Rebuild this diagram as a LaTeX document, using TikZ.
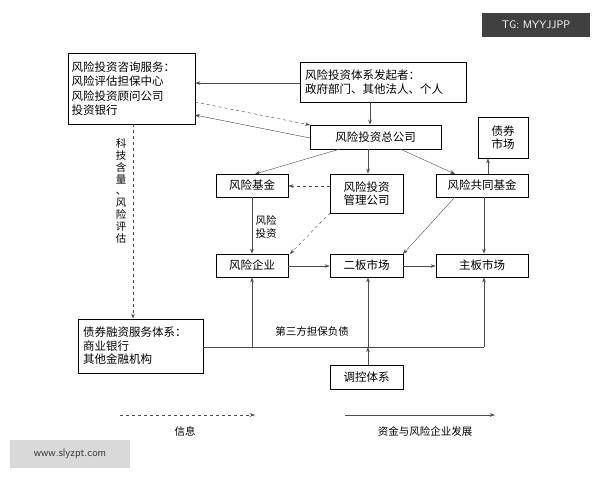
\documentclass[tikz,border=0pt]{standalone}
\usepackage{fontspec}
\setmainfont{Noto Sans CJK SC}
\usetikzlibrary{arrows.meta}
\begin{document}
\begin{tikzpicture}[x=1pt,y=-1pt,font=\fontsize{11.5}{13.5}\selectfont,
  bx/.style={draw,thick,inner sep=0pt},
  ar/.style={-{Stealth[length=5pt,width=3.5pt]},gray!60!black},
  da/.style={ar,dashed}]
\useasboundingbox (0,0) rectangle (600,480);
\fill[white] (0,0) rectangle (600,480);
\newcommand{\bxn}[6]{\node[bx,minimum width=#4-#2,minimum height=#5-#3,align=center] (#1) at ({(#2+#4)/2},{(#3+#5)/2}) {#6};}
\node[bx,minimum width=127,minimum height=71,align=left,text width=120,font=\fontsize{11.5}{14.5}\selectfont] (cons) at (131.5,88.5) {风险投资咨询服务：\\风险评估担保中心\\风险投资顾问公司\\投资银行};
\node[bx,minimum width=166,minimum height=40,align=left,text width=156] (init) at (383,82) {风险投资体系发起者：\\政府部门、其他法人、个人};
\bxn{tot}{310}{125}{441}{149}{风险投资总公司}
\bxn{bond}{478}{117}{528}{158}{债券\\市场}
\bxn{rf}{216}{174}{288}{197}{风险基金}
\bxn{mg}{330}{174}{403}{213}{风险投资\\管理公司}
\bxn{jf}{436}{174}{528}{197}{风险共同基金}
\bxn{re}{216}{254}{288}{277}{风险企业}
\bxn{sb}{330}{254}{403}{277}{二板市场}
\bxn{mb}{436}{254}{528}{277}{主板市场}
\node[bx,minimum width=125,minimum height=54,align=left,text width=115] (bf) at (140.5,346) {债券融资服务体系：\\商业银行\\其他金融机构};
\bxn{ctl}{330}{365}{403}{389}{调控体系}
\draw[ar] (init.west|-0,83) -- (cons.east|-0,83);
\draw[da] (195,102) -- (310,125);
\draw[ar] (310,138) -- (195,115);
\draw[ar] (init.south-|370,0) -- (tot.north-|370,0);
\draw[ar] (340,149) -- (255,174);
\draw[ar] (tot.south-|368,0) -- (mg.north-|368,0);
\draw[ar] (400,149) -- (455,174);
\draw[ar] (jf.north-|488,0) -- (bond.south-|488,0);
\draw[da] (mg.west|-0,186) -- (rf.east|-0,186);
\draw[ar] (rf.south-|252,0) -- (re.north-|252,0);
\node[align=center,font=\fontsize{10.5}{12.5}\selectfont] (lab1) at (266,227) {风险\\投资};
\draw[da] (330,213) -- (290,254);
\draw[ar] (455,197) -- (403,254);
\draw[ar] (jf.south-|484,0) -- (mb.north-|484,0);
\draw[ar] (re.east|-0,266) -- (sb.west|-0,266);
\draw[ar] (sb.east|-0,266) -- (mb.west|-0,266);
\coordinate (j1) at (252,347);
\coordinate (j2) at (484,347);
\draw[gray!60!black] (bf.east|-0,347) -- (j2);
\draw[ar] (j1) -- (re.south-|252,0);
\draw[ar] (j2) -- (mb.south-|484,0);
\node[font=\fontsize{10.5}{12.5}\selectfont] (lab2) at (312,331) {第三方担保负债};
\coordinate (j3) at (368,347);
\draw[ar] (ctl.north-|368,0) -- (j3);
\draw[ar] (j3) -- (sb.south-|368,0);
\draw[da] (cons.south-|133,0) -- (bf.north-|133,0);
\node[align=center,text width=12,inner sep=0pt,font=\fontsize{10.5}{11.8}\selectfont] (lab3) at (121,191) {科\\技\\含\\量\\、\\风\\险\\评\\估};
\coordinate (l1) at (120,415); \coordinate (l2) at (255,415);
\draw[da] (l1) -- (l2);
\node[font=\fontsize{10.5}{12.5}\selectfont] (lab4) at (185,431) {信息};
\coordinate (l3) at (345,415); \coordinate (l4) at (495,415);
\draw[ar] (l3) -- (l4);
\node[font=\fontsize{10.5}{12.5}\selectfont] (lab5) at (425,431) {资金与风险企业发展};
\node[fill=black!75,text=white,minimum width=108,minimum height=24,font=\sffamily\fontsize{11}{13}\selectfont] (wm1) at (536,25) {TG: MYYJJPP};
\node[fill=black!15,text=black!80,minimum width=120,minimum height=28,font=\sffamily\fontsize{11}{13}\selectfont] (wm2) at (70,454) {www.slyzpt.com};
\end{tikzpicture}
\end{document}
